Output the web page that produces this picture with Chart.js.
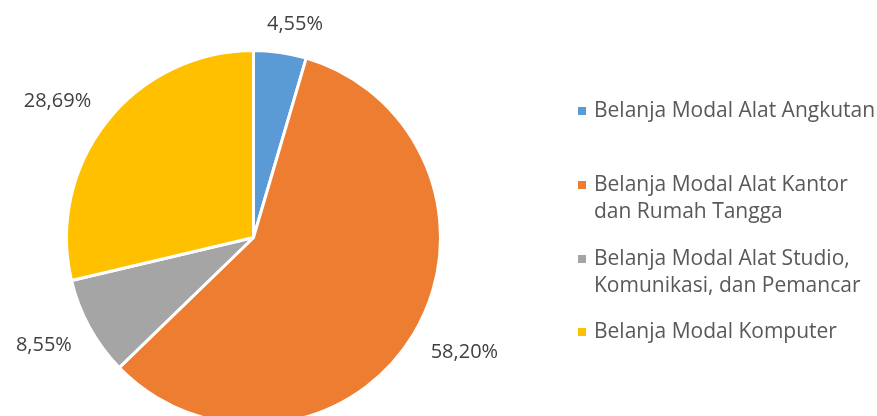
<!DOCTYPE html>
<html>
<head>
<meta charset="utf-8">
<script src="https://cdn.jsdelivr.net/npm/chart.js@4"></script>
<style>
  html, body { margin: 0; padding: 0; background: #fff; }
  #wrap { width: 877px; height: 416px; overflow: hidden; position: relative; }
  canvas { position: absolute; left: 0; top: 0; }
</style>
</head>
<body>
<div id="wrap"><canvas id="myChart" width="877" height="480"></canvas></div>
<script>
// data
var categories = [
  ['Belanja Modal Alat Angkutan'],
  ['Belanja Modal Alat Kantor', 'dan Rumah Tangga'],
  ['Belanja Modal Alat Studio,', 'Komunikasi, dan Pemancar'],
  ['Belanja Modal Komputer']
];
var shares = [4.55, 58.20, 8.55, 28.69];
var colors = ['#5B9BD5', '#ED7D31', '#A5A5A5', '#FFC000'];

var fontFamily = '"Open Sans", "Noto Sans", sans-serif';

function fmt(v) {
  return v.toFixed(2).replace('.', ',') + '%';
}

function clamp(v) {
  return Math.max(-1, Math.min(1, v));
}

// percentage labels outside the slices
var outsideLabels = {
  id: 'outsideLabels',
  afterDatasetsDraw: function (chart) {
    var ctx = chart.ctx;
    var meta = chart.getDatasetMeta(0);
    ctx.save();
    ctx.font = '20px ' + fontFamily;
    ctx.fillStyle = '#404040';
    ctx.textAlign = 'center';
    ctx.textBaseline = 'middle';
    meta.data.forEach(function (arc, i) {
      var txt = fmt(shares[i]);
      var halfW = ctx.measureText(txt).width / 2;
      var halfH = 8;
      var mid = (arc.startAngle + arc.endAngle) / 2;
      var r = arc.outerRadius + 20;
      var px = arc.x + Math.cos(mid) * r;
      var py = arc.y + Math.sin(mid) * r;
      var cx = px + halfW * clamp(Math.cos(mid) * 3);
      var cy = py + halfH * clamp(Math.sin(mid) * 3);
      ctx.fillText(txt, cx, cy);
    });
    ctx.restore();
  }
};

// legend on the right, with wrapped entries
var sideLegend = {
  id: 'sideLegend',
  afterDraw: function (chart) {
    var ctx = chart.ctx;
    var rowY = [111, 185, 259, 332];
    var lineH = 27;
    ctx.save();
    ctx.font = '21px ' + fontFamily;
    ctx.textAlign = 'left';
    ctx.textBaseline = 'middle';
    categories.forEach(function (lines, i) {
      ctx.fillStyle = colors[i];
      ctx.fillRect(578, rowY[i] - 4, 8, 8);
      ctx.fillStyle = '#595959';
      lines.forEach(function (t, j) {
        ctx.fillText(t, 594, rowY[i] + j * lineH);
      });
    });
    ctx.restore();
  }
};

var ctx = document.getElementById('myChart').getContext('2d');
var myChart = new Chart(ctx, {
  type: 'pie',
  data: {
    labels: categories.map(function (c) { return c.join(' '); }),
    datasets: [{
      data: shares,
      backgroundColor: colors,
      borderColor: '#ffffff',
      borderWidth: 3
    }]
  },
  options: {
    responsive: false,
    animation: false,
    layout: {
      padding: { left: 65, top: 49, right: 435, bottom: 54 }
    },
    plugins: {
      legend: { display: false },
      tooltip: { enabled: false }
    }
  },
  plugins: [outsideLabels, sideLegend]
});
</script>
</body>
</html>
